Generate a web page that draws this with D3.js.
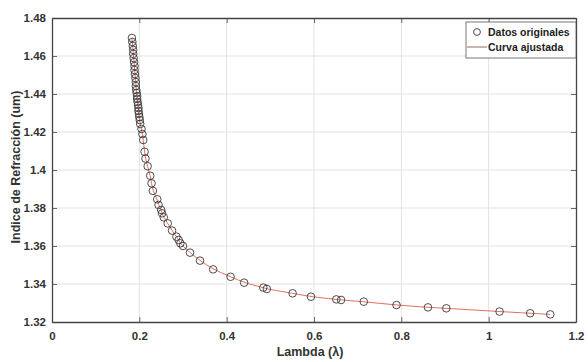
<!DOCTYPE html>
<html>
<head>
<meta charset="utf-8">
<script src="https://cdn.jsdelivr.net/npm/d3@7"></script>
<style>
  html, body { margin: 0; padding: 0; background: #fff; }
  svg { display: block; }
  text { font-family: "Liberation Sans", Arial, sans-serif; font-weight: bold; }
</style>
</head>
<body>
<svg id="chart" width="588" height="362"></svg>
<script>
// Wavelength (µm) of each measured sample
const lambda = [
  0.183, 0.184, 0.185, 0.186, 0.186, 0.187, 0.188, 0.189, 0.189, 0.190,
  0.191, 0.192, 0.192, 0.193, 0.194, 0.195, 0.195, 0.196, 0.197, 0.198,
  0.198, 0.199, 0.200, 0.201, 0.202, 0.205, 0.207, 0.209, 0.212, 0.214,
  0.219, 0.225, 0.228, 0.231, 0.241, 0.244, 0.250, 0.252, 0.256, 0.265,
  0.275, 0.285, 0.290, 0.294, 0.300, 0.316, 0.339, 0.369, 0.409, 0.440,
  0.484, 0.492, 0.551, 0.593, 0.651, 0.662, 0.714, 0.789, 0.861, 0.903,
  1.025, 1.095, 1.141
];
// Measured refractive index for each sample
const indice = [
  1.4695, 1.4674, 1.4653, 1.4632, 1.4611, 1.4589, 1.4568, 1.4547, 1.4526, 1.4505,
  1.4484, 1.4463, 1.4442, 1.4421, 1.4405, 1.4389, 1.4374, 1.4358, 1.4342, 1.4326,
  1.4311, 1.4295, 1.4279, 1.4263, 1.4242, 1.4216, 1.4189, 1.4158, 1.4096, 1.4060,
  1.4020, 1.3970, 1.3930, 1.3890, 1.3846, 1.3816, 1.3790, 1.3772, 1.3751, 1.3719,
  1.3681, 1.3649, 1.3632, 1.3614, 1.3600, 1.3565, 1.3523, 1.3477, 1.3438, 1.3407,
  1.3381, 1.3374, 1.3351, 1.3333, 1.3319, 1.3316, 1.3307, 1.3289, 1.3277, 1.3272,
  1.3255, 1.3246, 1.3240
];
const xTicks = [0, 0.2, 0.4, 0.6, 0.8, 1, 1.2];
const yTicks = [1.32, 1.34, 1.36, 1.38, 1.4, 1.42, 1.44, 1.46, 1.48];
const legendLabels = ["Datos originales", "Curva ajustada"];

const svg = d3.select("#chart");
const m = { left: 52, right: 576, top: 18, bottom: 322 };

const x = d3.scaleLinear().domain([0, 1.2]).range([m.left, m.right]);
const y = d3.scaleLinear().domain([1.32, 1.48]).range([m.bottom, m.top]);

const pts = lambda.map((l, i) => ({ l, n: indice[i] }));

// grid
const grid = svg.append("g");
grid.selectAll(".gx").data(xTicks.slice(1, -1)).join("line")
  .attr("x1", d => x(d)).attr("x2", d => x(d))
  .attr("y1", m.top).attr("y2", m.bottom)
  .attr("stroke", "#e3e3e3").attr("stroke-width", 1);
grid.selectAll(".gy").data(yTicks.slice(1, -1)).join("line")
  .attr("y1", d => y(d)).attr("y2", d => y(d))
  .attr("x1", m.left).attr("x2", m.right)
  .attr("stroke", "#e3e3e3").attr("stroke-width", 1);

// fitted curve
const line = d3.line().x(d => x(d.l)).y(d => y(d.n)).curve(d3.curveBasis);
svg.append("path").datum(pts)
  .attr("d", line)
  .attr("fill", "none")
  .attr("stroke", "#d9604a")
  .attr("stroke-width", 0.9);

// data markers
svg.append("g").selectAll("circle").data(pts).join("circle")
  .attr("cx", d => x(d.l)).attr("cy", d => y(d.n))
  .attr("r", 3.8)
  .attr("fill", "none")
  .attr("stroke", "#3a3a3a")
  .attr("stroke-width", 0.9);

// axes (ticks pointing inward, box around)
const axisColor = "#444";
const xAxis = svg.append("g").attr("transform", `translate(0,${m.bottom})`)
  .call(d3.axisBottom(x).tickValues(xTicks).tickFormat(d3.format("~g")).tickSizeInner(-5).tickSizeOuter(0).tickPadding(10));
const yAxis = svg.append("g").attr("transform", `translate(${m.left},0)`)
  .call(d3.axisLeft(y).tickValues(yTicks).tickFormat(d3.format("~g")).tickSizeInner(-5).tickSizeOuter(0).tickPadding(6));
const xTop = svg.append("g").attr("transform", `translate(0,${m.top})`)
  .call(d3.axisTop(x).tickValues(xTicks).tickFormat("").tickSizeInner(-5).tickSizeOuter(0));
const yRight = svg.append("g").attr("transform", `translate(${m.right},0)`)
  .call(d3.axisRight(y).tickValues(yTicks).tickFormat("").tickSizeInner(-5).tickSizeOuter(0));

[xAxis, yAxis, xTop, yRight].forEach(g => {
  g.select(".domain").attr("stroke", axisColor).attr("stroke-width", 1.3);
  g.selectAll(".tick line").attr("stroke", axisColor).attr("stroke-width", 0.8);
  g.selectAll("text").attr("fill", "#333").style("font-size", "11.5px").style("font-weight", "bold")
    .style("font-family", '"Liberation Sans", Arial, sans-serif');
});

// axis titles
svg.append("text")
  .attr("x", (m.left + m.right) / 2 - 4).attr("y", 356)
  .attr("text-anchor", "middle")
  .attr("fill", "#333").style("font-size", "12.5px")
  .text("Lambda (λ)");
svg.append("text")
  .attr("transform", `translate(20,${(m.top + m.bottom) / 2 - 3}) rotate(-90)`)
  .attr("text-anchor", "middle")
  .attr("fill", "#333").style("font-size", "12.5px")
  .text("Indice de Refracción (um)");

// legend
const lg = svg.append("g");
lg.append("rect")
  .attr("x", 466).attr("y", 22).attr("width", 110).attr("height", 36)
  .attr("fill", "#fff").attr("stroke", "#555").attr("stroke-width", 0.8);
lg.append("circle").attr("cx", 477).attr("cy", 32).attr("r", 3.4)
  .attr("fill", "none").attr("stroke", "#3a3a3a").attr("stroke-width", 0.9);
lg.append("line").attr("x1", 467).attr("x2", 487).attr("y1", 47).attr("y2", 47)
  .attr("stroke", "#8a5a50").attr("stroke-width", 0.9);
lg.selectAll("text").data(legendLabels).join("text")
  .attr("x", 488).attr("y", (d, i) => 36 + i * 15)
  .attr("fill", "#222").style("font-size", "10.5px")
  .text(d => d);
</script>
</body>
</html>
